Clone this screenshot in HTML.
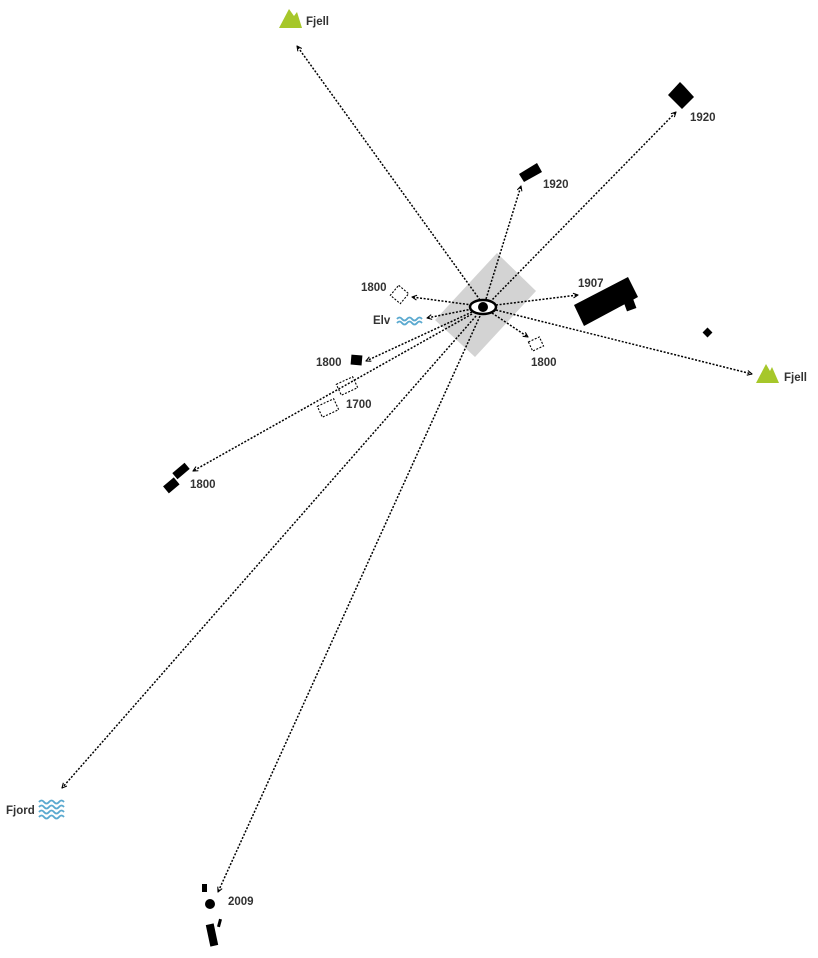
<!DOCTYPE html>
<html><head><meta charset="utf-8"><style>
html,body{margin:0;padding:0;background:#fff;}
svg{display:block;}
text{font-family:"Liberation Sans",sans-serif;font-weight:bold;font-size:11.5px;fill:#333;}
</style></head><body>
<svg width="818" height="958" viewBox="0 0 818 958" xmlns="http://www.w3.org/2000/svg">
<defs>
<marker id="a" viewBox="0 0 10 10" refX="9" refY="5" markerWidth="6" markerHeight="6" orient="auto" markerUnits="userSpaceOnUse">
<path d="M1,1 L9,5 L1,9" fill="none" stroke="#000" stroke-width="1.8"/>
</marker>
<path id="w" d="M0,0 q2.5,-3 5,0 t5,0 t5,0 t5,0 t5,0" fill="none" stroke="#5aa9cf" stroke-width="1.8"/>
</defs>
<polygon points="497,253 536,291 475,357 435,320" fill="#d3d3d3"/>
<g stroke="#000" stroke-width="1.5" stroke-dasharray="2,1.6" fill="none" marker-end="url(#a)">
<line x1="480" y1="300" x2="297" y2="46"/>
<line x1="490" y1="302" x2="676" y2="112"/>
<line x1="486" y1="299" x2="521" y2="186"/>
<line x1="472" y1="305" x2="412" y2="297"/>
<line x1="472" y1="309" x2="427" y2="318"/>
<line x1="496" y1="305" x2="578" y2="295"/>
<line x1="492" y1="313" x2="528" y2="337"/>
<line x1="496" y1="310" x2="752" y2="374"/>
<line x1="472" y1="312" x2="366" y2="361"/>
<line x1="472" y1="314" x2="193" y2="471"/>
<line x1="476" y1="316" x2="62" y2="788"/>
<line x1="480" y1="316" x2="218" y2="892"/>
</g>
<ellipse cx="483" cy="307" rx="13" ry="7" fill="#fff" stroke="#000" stroke-width="2.5"/>
<circle cx="483" cy="307" r="5" fill="#000"/>
<polygon points="279,28 289,9 294,16 297,12 302,28" fill="#a6c72a"/>
<text x="306" y="25">Fjell</text>
<polygon points="756,383 766,364 770,371 772,367 779,383" fill="#a6c72a"/>
<text x="784" y="381">Fjell</text>
<polygon points="668,95 680,82 684,86 694,97 682,109" fill="#000"/>
<text x="690" y="121">1920</text>
<polygon points="519,174 537,163 542,172 524,182" fill="#000"/>
<text x="543" y="188">1920</text>
<polygon points="574,305 628,277 638,297 584,326" fill="#000"/>
<rect x="625" y="300" width="10" height="10" fill="#000" transform="rotate(-20 630 305)"/>
<text x="578" y="287">1907</text>
<rect x="704" y="329" width="7" height="7" fill="#000" transform="rotate(45 707.5 332.5)"/>
<rect x="393" y="288" width="13" height="13" fill="none" stroke="#000" stroke-width="1.1" stroke-dasharray="2,1.5" transform="rotate(40 399.5 294.5)"/>
<text x="361" y="291">1800</text>
<text x="373" y="324">Elv</text>
<use href="#w" x="397" y="319"/>
<use href="#w" x="397" y="323"/>
<rect x="530" y="339" width="12" height="10" fill="none" stroke="#000" stroke-width="1.1" stroke-dasharray="2,1.5" transform="rotate(-25 536 344)"/>
<text x="531" y="366">1800</text>
<rect x="351" y="355" width="11" height="10" fill="#000" transform="rotate(5 356 360)"/>
<text x="316" y="366">1800</text>
<rect x="338" y="380" width="18" height="12" fill="none" stroke="#000" stroke-width="1.1" stroke-dasharray="2,1.5" transform="rotate(-25 347 386)"/>
<rect x="319" y="402" width="18" height="12" fill="none" stroke="#000" stroke-width="1.1" stroke-dasharray="2,1.5" transform="rotate(-25 328 408)"/>
<text x="346" y="408">1700</text>
<rect x="173" y="467" width="16" height="8" fill="#000" transform="rotate(-40 181 471)"/>
<rect x="164" y="481" width="14" height="9" fill="#000" transform="rotate(-40 171 485)"/>
<text x="190" y="488">1800</text>
<text x="6" y="814">Fjord</text>
<use href="#w" x="39" y="802"/>
<use href="#w" x="39" y="807"/>
<use href="#w" x="39" y="812"/>
<use href="#w" x="39" y="817"/>
<rect x="202" y="884" width="5" height="8" fill="#000"/>
<circle cx="210" cy="904" r="5" fill="#000"/>
<rect x="208" y="924" width="8" height="22" fill="#000" transform="rotate(-12 212 935)"/>
<rect x="218" y="919" width="3" height="8" fill="#000" transform="rotate(15 219.5 923)"/>
<text x="228" y="905">2009</text>
</svg>
</body></html>
